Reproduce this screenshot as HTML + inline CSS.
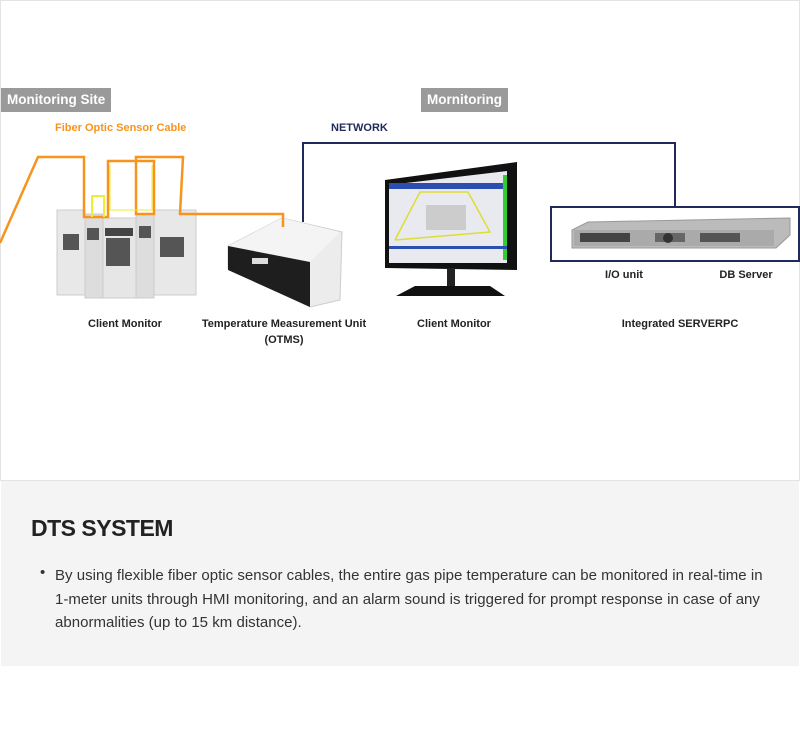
<!DOCTYPE html>
<html><head><meta charset="utf-8"><style>
body{margin:0;width:800px;height:743px;background:#fff;font-family:"Liberation Sans",sans-serif;position:relative;overflow:hidden}
.a{position:absolute;white-space:nowrap}
.lbl{font-size:11px;font-weight:bold;color:#222;transform:translateX(-50%)}
.tag{background:#9a9a9a;color:#fff;font-weight:bold;font-size:13.5px;height:24px;line-height:24px;padding:0 6px;}
</style></head><body>
<div class="a" style="left:0;top:0;width:798px;height:479px;border:1px solid #e3e3e3"></div>
<div class="a" style="left:1px;top:481px;width:798px;height:185px;background:#f4f4f4"></div>

<div class="a tag" style="left:1px;top:88px">Monitoring Site</div>
<div class="a tag" style="left:421px;top:88px">Mornitoring</div>
<div class="a" style="left:55px;top:122px;font-size:11px;font-weight:bold;color:#f7941d">Fiber Optic Sensor Cable</div>
<div class="a" style="left:331px;top:122px;font-size:11px;font-weight:bold;color:#1f2a5a">NETWORK</div>

<svg class="a" style="left:0;top:0" width="800" height="480">
<polyline points="303,222 303,143 675,143 675,206" fill="none" stroke="#1f2a5a" stroke-width="2"/>
<rect x="551" y="207" width="248" height="54" fill="none" stroke="#1f2a5a" stroke-width="2"/>
<g>
<rect x="57" y="210" width="28" height="85" fill="#e8e8e8" stroke="#ccc"/>
<rect x="85" y="214" width="18" height="84" fill="#ddd" stroke="#ccc"/>
<rect x="103" y="218" width="33" height="80" fill="#e6e6e6" stroke="#ccc"/>
<rect x="136" y="214" width="18" height="84" fill="#ddd" stroke="#ccc"/>
<rect x="154" y="210" width="42" height="85" fill="#e8e8e8" stroke="#ccc"/>
<rect x="63" y="234" width="16" height="16" fill="#555"/>
<rect x="87" y="228" width="12" height="12" fill="#555"/>
<rect x="106" y="238" width="24" height="28" fill="#555"/>
<rect x="105" y="228" width="28" height="8" fill="#444"/>
<rect x="139" y="226" width="12" height="12" fill="#555"/>
<rect x="160" y="237" width="24" height="20" fill="#555"/>
</g>
<polygon points="228,246 282,218 342,232 340,300 310,307 228,268" fill="#ececec" stroke="#ccc"/>
<polygon points="228,246 310,262 340,232 282,218" fill="#f4f4f4"/>
<polygon points="228,246 310,262 310,307 228,270" fill="#1e1e1e"/>
<rect x="252" y="258" width="16" height="6" fill="#ddd"/>
<polygon points="385,180 517,162 517,270 385,268" fill="#111"/>
<polygon points="389,185 507,171 507,263 389,263" fill="#e8eaf0"/>
<rect x="389" y="183" width="118" height="6" fill="#2a4fb0"/>
<rect x="503" y="175" width="4" height="85" fill="#3c3"/>
<rect x="426" y="205" width="40" height="25" fill="#ccc"/>
<polyline points="395,240 420,192 468,192 490,232 395,240" fill="none" stroke="#dd3" stroke-width="1.5"/>
<rect x="389" y="246" width="118" height="3" fill="#2a4fb0"/>
<rect x="447" y="268" width="8" height="20" fill="#222"/>
<polygon points="396,296 415,286 490,286 505,296" fill="#111"/>
<polygon points="572,230 588,222 790,218 790,235 776,248 572,248" fill="#bbb" stroke="#999"/>
<rect x="574" y="230" width="200" height="16" fill="#aaa"/>
<rect x="580" y="233" width="50" height="9" fill="#444"/>
<rect x="655" y="233" width="30" height="9" fill="#666"/>
<rect x="700" y="233" width="40" height="9" fill="#555"/>
<circle cx="668" cy="238" r="5" fill="#333"/>
<polyline points="0,243 38,157 84,157 84,217 108,217 108,161 154,161 154,214 136,214 136,157 183,157 180,214 283,214 283,227" fill="none" stroke="#f7941d" stroke-width="2.5"/>
<polyline points="92,217 92,196 104,196 104,217" fill="none" stroke="#ee3" stroke-width="2"/>
<polyline points="110,165 110,210 152,210 152,165" fill="none" stroke="#ee3" stroke-width="1"/>
</svg>

<div class="a lbl" style="left:125px;top:318px">Client Monitor</div>
<div class="a lbl" style="left:284px;top:318px">Temperature Measurement Unit</div>
<div class="a lbl" style="left:284px;top:334px">(OTMS)</div>
<div class="a lbl" style="left:454px;top:318px">Client Monitor</div>
<div class="a lbl" style="left:680px;top:318px">Integrated SERVERPC</div>
<div class="a lbl" style="left:624px;top:269px">I/O unit</div>
<div class="a lbl" style="left:746px;top:269px">DB Server</div>

<div class="a" style="left:31px;top:515px;font-size:23px;font-weight:bold;color:#222;letter-spacing:-0.5px">DTS SYSTEM</div>
<div class="a" style="left:40px;top:564px;font-size:15px;color:#333">•</div>
<div class="a" style="left:55px;top:564px;font-size:15px;line-height:23.5px;color:#333;letter-spacing:0.02px">By using flexible fiber optic sensor cables, the entire gas pipe temperature can be monitored in real-time in<br>1-meter units through HMI monitoring, and an alarm sound is triggered for prompt response in case of any<br>abnormalities (up to 15 km distance).</div>
</body></html>
